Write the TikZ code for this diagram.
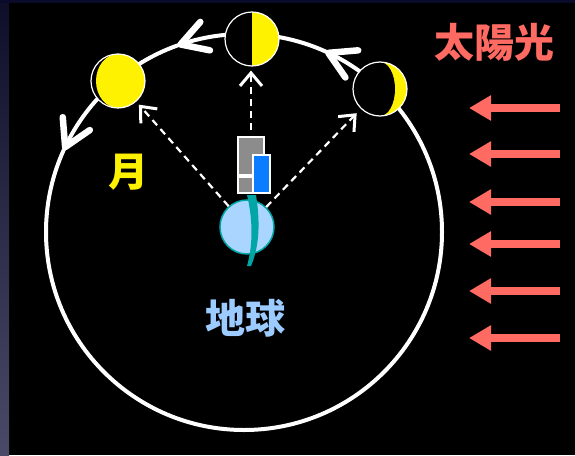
\documentclass[tikz,border=0pt]{standalone}
\usepackage{fontspec}
\newfontfamily\jp{Noto Sans CJK JP}
\usetikzlibrary{arrows.meta}
\definecolor{tsuki}{HTML}{FFF200}
\definecolor{sora}{HTML}{AAD5FF}
\definecolor{aomidori}{HTML}{00A5A5}
\definecolor{hikari}{HTML}{FF6A62}
\definecolor{chikyu}{HTML}{9CCBFF}
\definecolor{kaiiro}{HTML}{8C8C8C}
\definecolor{ao}{HTML}{0A7CFF}
\definecolor{yoru}{HTML}{0E0E28}
\definecolor{yoru2}{HTML}{4A4A68}
\definecolor{yoru3}{HTML}{0A0A2A}
\tikzstyle{moji} = [font=\jp\bfseries\fontsize{40}{40}\selectfont]
\tikzstyle{moon} = [circle, minimum size=54pt, inner sep=0pt, fill=black, draw=white, line width=1.2pt]
\tikzstyle{block} = [draw=white, line width=1.2pt, inner sep=0pt]
\tikzstyle{sight} = [white, line width=2.2pt, dash pattern=on 7pt off 5pt, shorten >=4pt,
  -{Straight Barb[length=13pt,width=22pt,line width=3pt]}]
\tikzstyle{sunray} = [hikari, line width=8pt, -{Triangle[length=22pt,width=24pt]}]
\tikzstyle{orbit} = [white, line width=4pt]
\tikzstyle{chevron} = [white, line width=6.5pt, line cap=round, line join=round]

\begin{document}
\begin{tikzpicture}[x=1pt,y=-1pt]
	% backdrop
	\fill[black] (0,0) rectangle (575,455);
	\shade[top color=yoru, bottom color=yoru2] (0,0) rectangle (9,455);
	\fill[yoru3] (0,0) rectangle (575,3);

	% orbit of the moon, running counterclockwise
	\coordinate (kido) at (244,232);
	\draw[orbit] (kido) circle (198);
	\foreach \a in {64.8,108.7,154.6}
		\draw[chevron] (kido) ++(-\a:198) ++(\a-60:30pt) -- ++(\a+120:30pt) -- ++(\a-120:30pt);

	% the three phases
	\node[moon, path picture={
		\fill[tsuki] (path picture bounding box.north) rectangle (path picture bounding box.south east);
		\fill[tsuki] (path picture bounding box.center) ellipse [x radius=22, y radius=27];
	}] (m1) at (118,81) {};
	\node[moon, path picture={
		\fill[tsuki] (path picture bounding box.north) rectangle (path picture bounding box.south east);
	}] (m2) at (252,39) {};
	\node[moon, path picture={
		\fill[tsuki] (path picture bounding box.north) rectangle (path picture bounding box.south east);
		\fill[black] (path picture bounding box.center) ellipse [x radius=15, y radius=27];
	}] (m3) at (380,89) {};

	% earth with the observer
	\node[circle, minimum size=54pt, inner sep=0pt, fill=sora, draw=aomidori, line width=1.5pt] (e) at (247,227) {};
	\fill[aomidori] (247,195) .. controls (253,220) and (253,245) .. (247,266)
		-- (251,266) .. controls (260,245) and (260,220) .. (256,195) -- cycle;
	\node[block, fill=kaiiro, minimum width=26pt, minimum height=38pt] (hito) at (251,156) {};
	\node[block, fill=kaiiro, minimum width=15pt, minimum height=16pt] (ashi) at (245.5,185) {};
	\node[block, fill=ao, minimum width=17pt, minimum height=38pt] (kage) at (261.5,174) {};

	% lines of sight
	\draw[sight] (e) -- (m1);
	\draw[sight, shorten <=6pt] (hito.north) -- (hito.north |- m2.south);
	\draw[sight, shorten >=6pt] (e) -- (m3);

	% sunlight
	\foreach \y in {108,154,202,244,291,338}
		\draw[sunray] (560,\y) -- (469,\y);

	\node[moji, text=tsuki] (tsukimoji) at (128,172) {月};
	\node[moji, text=chikyu] (chikyumoji) at (245,318) {地球};
	\node[moji, text=hikari] (hikarimoji) at (494,42) {太陽光};
\end{tikzpicture}
\end{document}
